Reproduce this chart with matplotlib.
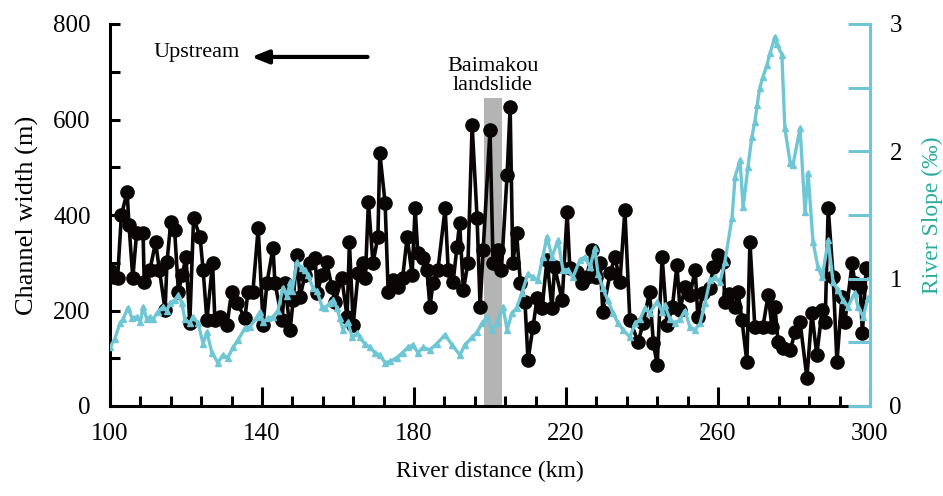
import matplotlib
matplotlib.use("Agg")
import matplotlib.pyplot as plt
from matplotlib.ticker import MultipleLocator, FixedLocator

plt.rcParams['font.family'] = ['Liberation Serif', 'DejaVu Serif']

# Channel width (m) vs river distance (km)
width_km = [100, 101, 102, 103, 104.5, 105, 106, 107, 108.7, 109, 110.5, 112, 113, 114.5, 115,
            116, 117, 118, 119, 120, 121, 122, 123.7, 124.5, 125.5, 127, 127.6, 129, 130.8, 132,
            133.4, 135.5, 136.3, 137.6, 139, 140.3, 141.3, 142.9, 143.4, 145.3, 146, 147.4, 148.2,
            149.2, 150, 151.3, 152.6, 154, 154.5, 155.8, 157, 158.4, 159.2, 161, 162.4, 163, 164,
            165.3, 166.6, 167.2, 168, 169.2, 170.5, 171, 172.4, 173.2, 174.5, 175.8, 177, 178.2,
            179.5, 180.3, 181, 182.4, 183.4, 184.2, 185, 186.3, 188.2, 189, 190.3, 191.3, 192, 193,
            194.2, 195.3, 196.6, 197.4, 198.2, 200, 200.8, 202, 203, 204.5, 205.3, 206, 207, 208,
            209.2, 210, 211.3, 212.4, 213.7, 215, 216.3, 217, 219, 220.3, 221, 223, 224.2, 225.5,
            226.8, 228, 229, 229.7, 231.6, 232.9, 234.2, 235.5, 236.8, 239, 240.3, 242, 243, 244,
            245.3, 246.6, 248, 249.2, 250, 251.3, 252.6, 254, 254.7, 256, 257.9, 258.7, 260, 261.3,
            261.8, 262.8, 264.5, 265.3, 266.3, 267.6, 268.4, 269.7, 271.8, 273.2, 274.2, 275, 275.8,
            277, 279, 280.3, 281.6, 283.4, 284.7, 286, 287.4, 288.2, 289, 290.3, 291.3, 292.6, 293.4,
            295.3, 296, 297.4, 298, 299, 300]
width_m = [285, 270, 268, 400, 448, 379, 268, 362, 362, 260, 285, 343, 285, 201, 302,
           385, 369, 239, 274, 312, 174, 394, 354, 285, 180, 299, 180, 186, 170, 239,
           216, 184, 239, 239, 373, 170, 258, 331, 258, 180, 258, 159, 222,
           316, 228, 274, 299, 310, 237, 274, 302, 249, 218, 268, 186, 343, 170,
           278, 299, 268, 427, 299, 354, 530, 425, 239, 264, 249, 268, 354,
           274, 415, 320, 310, 285, 207, 258, 285, 415, 285, 260, 333, 383, 243,
           299, 588, 394, 207, 327, 578, 299, 327, 285, 484, 626, 299, 362, 258,
           218, 96, 165, 226, 205, 306, 205, 291, 222, 406, 289, 281, 258, 270,
           327, 270, 299, 197, 278, 312, 260, 410, 180, 134, 174, 239, 132, 86,
           312, 170, 207, 295, 201, 249, 232, 285, 186, 237, 247, 291, 316, 302,
           218, 235, 207, 239, 180, 92, 343, 165, 165, 232, 165, 207, 134,
           121, 117, 155, 176, 59, 195, 107, 201, 176, 415, 270, 92, 228, 176,
           299, 258, 249, 153, 289, 285]

# River slope (permil) vs river distance (km)
slope_km = [100, 101.3, 102.6, 103.4, 104.7, 105.8, 107, 108, 108.7, 109.7, 110.5, 111.3, 112.6,
            114, 115, 115.8, 117, 117.9, 118.9, 119.7, 121, 121.8, 123.2, 124.5, 125.5, 126.8,
            128.4, 129.7, 131, 132.4, 133.7, 135.5, 136.8, 138.7, 139.5, 140.3, 141.6, 142.9,
            144.2, 145.5, 146.6, 147.4, 147.9, 149.2, 150.5, 151.3, 152, 153.4, 154.5, 155.8,
            156.6, 157.9, 158.7, 159.7, 160.5, 161.3, 162.6, 163.7, 165, 165.8, 167, 168.4,
            169.7, 171, 172.4, 173.7, 175.5, 177, 178.4, 179.7, 181, 182.4, 184.2, 186, 188.2,
            190, 192.1, 193.4, 195.3, 196.6, 197.9, 199.2, 200.5, 201.8, 203.4, 204.5, 205.8,
            207, 208.4, 210, 211.3, 212.6, 213.9, 215, 216.3, 217.9, 219.2, 220.5, 221.8, 223.7,
            225, 226.3, 227.6, 228.4, 229.7, 231, 232.4, 233.7, 235, 236.8, 238.2, 239.5, 240.8,
            242, 244, 245.3, 246, 247.4, 248.7, 250, 251.3, 252.6, 254, 255.3, 256.6, 257.9,
            259.2, 260.5, 261.8, 263.7, 264.5, 265.8, 266.6, 267.9, 268.9, 269.7, 270.3, 271,
            271.8, 272.9, 273.7, 275, 275.5, 276.8, 277.6, 279, 279.7, 281.6, 282.9, 283.7, 285,
            286.3, 287.4, 289, 290.3, 291.6, 292.9, 294.2, 296, 296.8, 298.2, 299.5]
slope_pm = [0.46, 0.53, 0.65, 0.68, 0.77, 0.69, 0.70, 0.66, 0.78, 0.68, 0.70, 0.68, 0.74,
            0.78, 0.75, 0.81, 0.83, 0.87, 0.81, 0.68, 0.65, 0.70, 0.65, 0.49, 0.58, 0.42,
            0.34, 0.40, 0.38, 0.46, 0.52, 0.61, 0.62, 0.70, 0.74, 0.66, 0.69, 0.70,
            0.75, 0.93, 0.86, 0.97, 0.90, 1.13, 1.08, 1.07, 1.03, 0.93, 0.90, 0.78,
            0.77, 0.81, 0.83, 0.77, 0.69, 0.60, 0.66, 0.54, 0.57, 0.54, 0.49, 0.46,
            0.42, 0.40, 0.34, 0.35, 0.38, 0.42, 0.46, 0.48, 0.42, 0.46, 0.44, 0.49, 0.56,
            0.48, 0.40, 0.48, 0.54, 0.58, 0.65, 0.70, 0.60, 0.65, 0.78, 0.60, 0.73,
            0.77, 0.89, 1.04, 1.01, 0.99, 1.17, 1.33, 1.17, 1.30, 1.07, 1.07, 1.01, 1.15,
            1.17, 1.09, 1.24, 1.04, 0.93, 0.83, 0.73, 0.65, 0.60, 0.54, 0.65, 0.68, 0.77,
            0.73, 0.82, 0.74, 0.79, 0.68, 0.65, 0.68, 0.75, 0.62, 0.60, 0.65, 0.81, 0.99,
            1.01, 0.97, 1.13, 1.48, 1.80, 1.93, 1.56, 1.88, 2.11, 2.23, 2.36, 2.50,
            2.58, 2.68, 2.77, 2.90, 2.84, 2.76, 2.18, 1.91, 1.89, 2.18, 1.52, 1.83, 1.29,
            1.09, 1.01, 1.30, 0.97, 0.91, 0.83, 0.78, 0.89, 0.78, 0.70, 0.85]

x_ticks = [100, 140, 180, 220, 260, 300]
x_minor_ticks = list(range(100, 301, 8))
landslide_km = [198.4, 203.2]
landslide_top = 645

W, H = 943, 496
fig = plt.figure(figsize=(W / 100, H / 100), dpi=100)
ax = fig.add_axes([110 / W, 1 - 406 / H, 760 / W, 382 / H])
ax2 = ax.twinx()

cyan = '#6fc6d4'
teal = '#2aab9f'

ax.bar((landslide_km[0] + landslide_km[1]) / 2, landslide_top,
       width=landslide_km[1] - landslide_km[0], color='#b4b4b4', zorder=0)
ax.plot(width_km, width_m, color='#0a0606', lw=2.6, marker='o', ms=9.5, zorder=3)
ax2.plot(slope_km, slope_pm, color=cyan, lw=2.4, marker='^', ms=4, zorder=3)

ax.set_xlim(100, 300)
ax.set_ylim(0, 800)
ax2.set_ylim(0, 3)

ax.xaxis.set_major_locator(FixedLocator(x_ticks))
ax.xaxis.set_minor_locator(FixedLocator(x_minor_ticks))
ax.yaxis.set_major_locator(MultipleLocator(200))
ax.yaxis.set_minor_locator(MultipleLocator(100))
ax2.yaxis.set_major_locator(MultipleLocator(1))
ax2.yaxis.set_minor_locator(MultipleLocator(0.5))

for s in ['top', 'right']:
    ax.spines[s].set_visible(False)
ax.spines['left'].set_linewidth(2.2)
ax.spines['bottom'].set_linewidth(2.2)
for s in ['top', 'left', 'bottom']:
    ax2.spines[s].set_visible(False)
ax2.spines['right'].set_color(cyan)
ax2.spines['right'].set_linewidth(2.2)

ax.tick_params(axis='x', which='major', direction='in', length=14, width=2.2, pad=12, labelsize=18)
ax.tick_params(axis='x', which='minor', direction='in', length=7, width=2.2)
ax.tick_params(axis='y', which='both', direction='in', length=7, width=2.2, pad=14, labelsize=18)
ax2.tick_params(axis='y', which='both', direction='in', length=16, width=2.2, color=cyan,
                pad=14, labelsize=18, labelcolor='black')

ax.set_xlabel('River distance (km)', fontsize=17, labelpad=12)
ax.set_ylabel('Channel width (m)', fontsize=19, labelpad=10)
ax2.set_ylabel('River Slope (‰)', fontsize=17, color=teal, labelpad=14)

ax.annotate('', xy=(136.5, 731), xytext=(168.5, 731),
            arrowprops=dict(arrowstyle='-|>,head_length=1.0,head_width=0.4', color='black', lw=3))
ax.text(111.5, 740, 'Upstream', fontsize=16, ha='left', va='center')
ax.text(200.8, 652, 'Baimakou\nlandslide', fontsize=16, ha='center', va='bottom', linespacing=1.0)

fig.savefig('out.png', dpi=100)
